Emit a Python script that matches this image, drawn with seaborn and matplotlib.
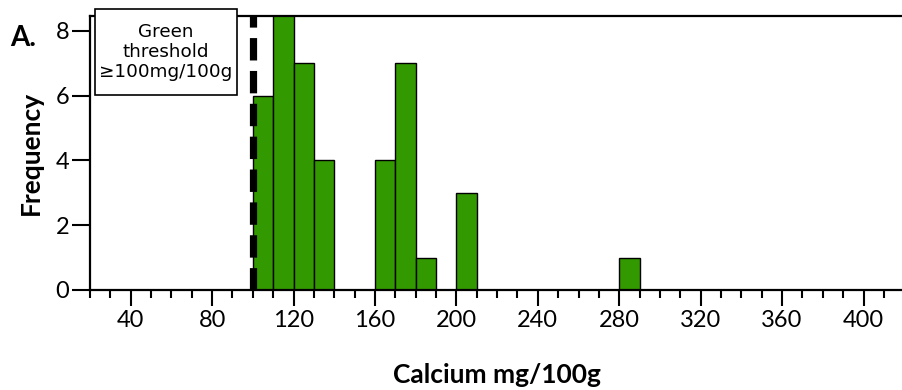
import numpy as np
import pandas as pd
import matplotlib
matplotlib.use("Agg")
import matplotlib.pyplot as plt
import seaborn as sns
from matplotlib.patches import Rectangle
from matplotlib.ticker import MultipleLocator, FixedLocator

# ---- data ----
bin_left = [100, 110, 120, 130, 160, 170, 180, 200, 280]
counts = [6, 9, 7, 4, 4, 7, 1, 3, 1]
x_ticks = [40, 80, 120, 160, 200, 240, 280, 320, 360, 400]
y_ticks = [0, 2, 4, 6, 8]
threshold = 100
box_text = "Green\nthreshold\n≥100mg/100g"
x_label = "Calcium mg/100g"
y_label = "Frequency"
panel_label = "A."

sns.set_theme(style="ticks", rc={
    "axes.edgecolor": "black", "xtick.color": "black", "ytick.color": "black",
    "text.color": "black", "axes.labelcolor": "black",
})
plt.rcParams['font.family'] = ['Lato', 'DejaVu Sans']

W, H = 903, 390
fig = plt.figure(figsize=(W / 100, H / 100), dpi=100)
ax = fig.add_axes([90 / W, 100 / H, 813 / W, 274 / H])

df = pd.DataFrame({"calcium": bin_left, "count": counts})
sns.histplot(data=df, x="calcium", weights="count", binwidth=10, binrange=(100, 290),
             color="#339900", alpha=1, edgecolor="black", linewidth=1.0, ax=ax)

line = ax.axvline(threshold, color="black", linewidth=5.2, zorder=5)
line.set_dashes((3.1, 1.45))
line.set_solid_capstyle("butt")
line.set_dash_capstyle("butt")

ax.set_xlim(20, 419.4)
ax.set_ylim(0, 8.46)
ax.xaxis.set_major_locator(FixedLocator(x_ticks))
ax.xaxis.set_minor_locator(MultipleLocator(10))
ax.yaxis.set_major_locator(FixedLocator(y_ticks))

ax.tick_params(axis='x', which='major', length=11.5, width=1.5, labelsize=17, pad=3, direction='out')
ax.tick_params(axis='x', which='minor', length=5.5, width=1.5, direction='out')
ax.tick_params(axis='y', which='major', length=13, width=1.5, labelsize=17, pad=2, direction='out')

for s in ["left", "bottom", "top"]:
    ax.spines[s].set_linewidth(1.6)
ax.spines["right"].set_visible(False)

ax.set_xlabel(x_label, fontsize=19, fontweight="bold", labelpad=23)
ax.set_ylabel(y_label, fontsize=19, fontweight="bold")
ax.yaxis.set_label_coords(-47 / 813, 0.5)

# threshold annotation box
rect = Rectangle((95 / W, 1 - 95 / H), 142 / W, 86 / H, transform=fig.transFigure,
                 facecolor="white", edgecolor="black", linewidth=1.2, zorder=10)
fig.add_artist(rect)
fig.text(166 / W, 1 - 52 / H, box_text, ha="center", va="center", fontsize=13.2,
         family=["DejaVu Sans"], linespacing=1.15, zorder=11)

fig.text(10 / W, 1 - 38 / H, panel_label, ha="left", va="center", fontsize=20, fontweight="bold")

fig.savefig("out.png", dpi=100)
